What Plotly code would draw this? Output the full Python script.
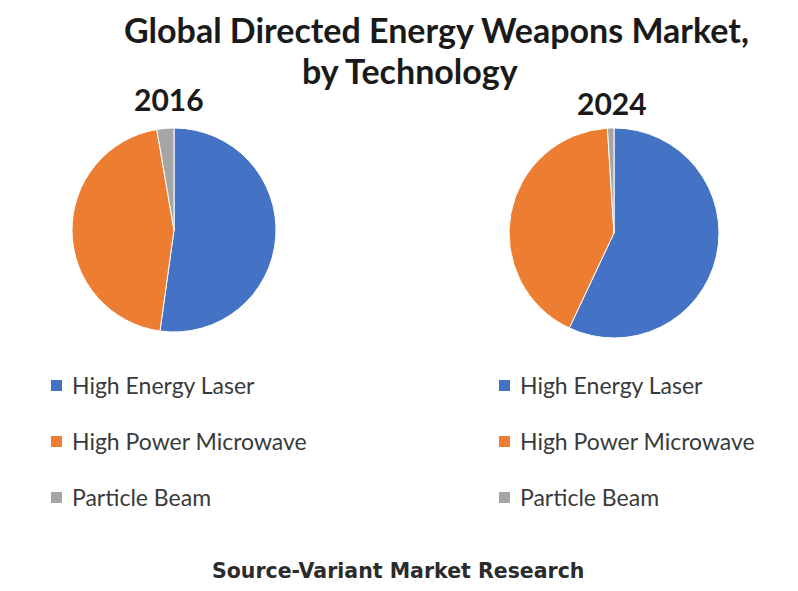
import plotly.graph_objects as go

labels = ["High Energy Laser", "High Power Microwave", "Particle Beam"]
colors = ["#4472C4", "#ED7D31", "#A5A5A5"]
years = ["2016", "2024"]
values_2016 = [52.2, 45.1, 2.7]
values_2024 = [57.0, 42.0, 1.0]
title_lines = ["Global Directed Energy Weapons Market,", "by Technology"]
source_text = "Source-Variant Market Research"

# page body has an 8px margin; map window pixel coords to paper coords
OFF = 8
W, H = 798 - 2 * OFF, 591 - 2 * OFF


def px(x):
    return (x - OFF) / W


def py(y):
    return 1 - (y - OFF) / H


FONT = "Lato"

fig = go.Figure()
domains = [
    dict(x=[px(71), px(277)], y=[py(332), py(128)]),
    dict(x=[px(509), px(719)], y=[py(338), py(128)]),
]
for vals, dom, yr in zip([values_2016, values_2024], domains, years):
    fig.add_trace(go.Pie(
        labels=labels, values=vals, domain=dom, sort=False,
        direction="clockwise", rotation=0, textinfo="none",
        hoverinfo="label+percent", showlegend=False, name=yr,
        marker=dict(colors=colors, line=dict(color="white", width=1)),
    ))

annotations = []
for line, xx, yy in zip(title_lines, [436, 410], [30, 70]):
    annotations.append(dict(text="<b>%s</b>" % line, x=px(xx), y=py(yy),
                            xref="paper", yref="paper", showarrow=False,
                            xanchor="center", yanchor="middle",
                            font=dict(family=FONT, size=34, color="#1a1a1a")))
for yr, xx, yy in zip(years, [169, 612], [99, 103]):
    annotations.append(dict(text="<b>%s</b>" % yr, x=px(xx), y=py(yy),
                            xref="paper", yref="paper", showarrow=False,
                            xanchor="center", yanchor="middle",
                            font=dict(family=FONT, size=30, color="#1a1a1a")))
shapes = []
for lx in [51, 499]:
    for i, (lab, col) in enumerate(zip(labels, colors)):
        cy = 385 + i * 56
        shapes.append(dict(type="rect", xref="paper", yref="paper",
                           x0=px(lx), x1=px(lx + 11),
                           y0=py(cy + 6), y1=py(cy - 5),
                           fillcolor=col, line=dict(width=0)))
        annotations.append(dict(text=lab, x=px(lx + 19), y=py(cy),
                                xref="paper", yref="paper", showarrow=False,
                                xanchor="left", yanchor="middle",
                                font=dict(family=FONT, size=23, color="#3a3a3a")))
annotations.append(dict(text="<b>%s</b>" % source_text, x=px(398), y=py(571),
                        xref="paper", yref="paper", showarrow=False,
                        xanchor="center", yanchor="middle",
                        font=dict(family="DejaVu Sans", size=20.5, color="#2b2b2b")))

fig.update_layout(
    width=W, height=H, margin=dict(l=0, r=0, t=0, b=0),
    paper_bgcolor="white", plot_bgcolor="white",
    annotations=annotations, shapes=shapes, showlegend=False,
)
fig.write_html("out.html")
